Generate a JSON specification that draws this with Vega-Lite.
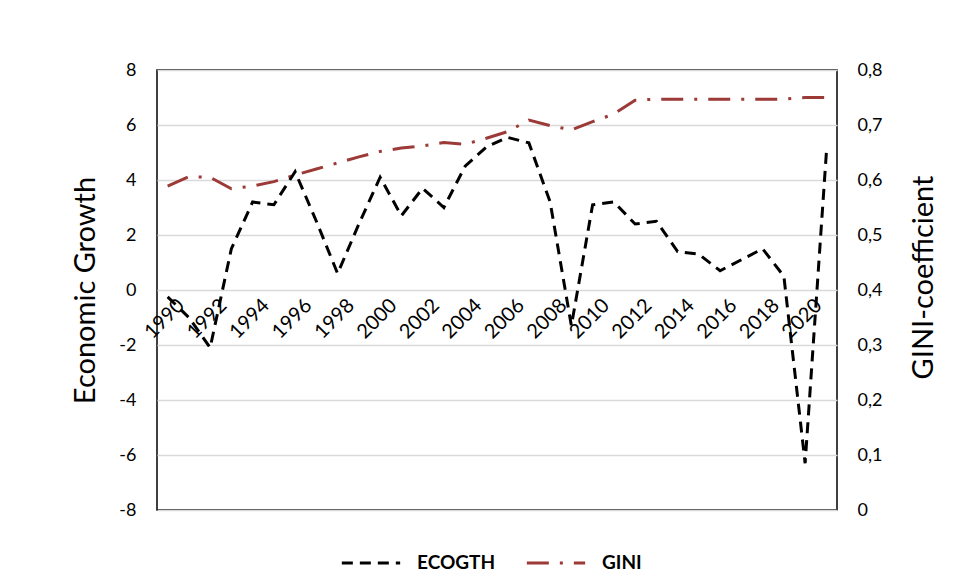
{
  "$schema": "https://vega.github.io/schema/vega-lite/v6.json",
  "width": 680,
  "height": 440,
  "autosize": {"type": "none"},
  "padding": {"left": 157, "top": 70, "right": 119, "bottom": 65},
  "background": "white",
  "config": {
    "view": {"stroke": "black", "strokeWidth": 1.5},
    "font": "Lato",
    "axis": {"labelFont": "Lato", "titleFont": "Lato", "labelColor": "black", "titleColor": "black", "titleFontWeight": "normal"}
  },
  "data": {
    "values": [
      {"year": "1990", "series": "ECOGTH", "value": -0.25},
      {"year": "1991", "series": "ECOGTH", "value": -1.0},
      {"year": "1992", "series": "ECOGTH", "value": -2.1},
      {"year": "1993", "series": "ECOGTH", "value": 1.5},
      {"year": "1994", "series": "ECOGTH", "value": 3.2},
      {"year": "1995", "series": "ECOGTH", "value": 3.1},
      {"year": "1996", "series": "ECOGTH", "value": 4.3},
      {"year": "1997", "series": "ECOGTH", "value": 2.5},
      {"year": "1998", "series": "ECOGTH", "value": 0.6},
      {"year": "1999", "series": "ECOGTH", "value": 2.4},
      {"year": "2000", "series": "ECOGTH", "value": 4.1},
      {"year": "2001", "series": "ECOGTH", "value": 2.7},
      {"year": "2002", "series": "ECOGTH", "value": 3.7},
      {"year": "2003", "series": "ECOGTH", "value": 3.0},
      {"year": "2004", "series": "ECOGTH", "value": 4.5},
      {"year": "2005", "series": "ECOGTH", "value": 5.2},
      {"year": "2006", "series": "ECOGTH", "value": 5.55},
      {"year": "2007", "series": "ECOGTH", "value": 5.35},
      {"year": "2008", "series": "ECOGTH", "value": 3.2},
      {"year": "2009", "series": "ECOGTH", "value": -1.3},
      {"year": "2010", "series": "ECOGTH", "value": 3.1},
      {"year": "2011", "series": "ECOGTH", "value": 3.2},
      {"year": "2012", "series": "ECOGTH", "value": 2.4},
      {"year": "2013", "series": "ECOGTH", "value": 2.5},
      {"year": "2014", "series": "ECOGTH", "value": 1.4},
      {"year": "2015", "series": "ECOGTH", "value": 1.3},
      {"year": "2016", "series": "ECOGTH", "value": 0.7},
      {"year": "2017", "series": "ECOGTH", "value": 1.1},
      {"year": "2018", "series": "ECOGTH", "value": 1.5},
      {"year": "2019", "series": "ECOGTH", "value": 0.5},
      {"year": "2020", "series": "ECOGTH", "value": -6.3},
      {"year": "2021", "series": "ECOGTH", "value": 5.0},
      {"year": "1990", "series": "GINI", "value": 0.589},
      {"year": "1991", "series": "GINI", "value": 0.606},
      {"year": "1992", "series": "GINI", "value": 0.605},
      {"year": "1993", "series": "GINI", "value": 0.584},
      {"year": "1994", "series": "GINI", "value": 0.589},
      {"year": "1995", "series": "GINI", "value": 0.597},
      {"year": "1996", "series": "GINI", "value": 0.609},
      {"year": "1997", "series": "GINI", "value": 0.62},
      {"year": "1998", "series": "GINI", "value": 0.631},
      {"year": "1999", "series": "GINI", "value": 0.642},
      {"year": "2000", "series": "GINI", "value": 0.652},
      {"year": "2001", "series": "GINI", "value": 0.658},
      {"year": "2002", "series": "GINI", "value": 0.662},
      {"year": "2003", "series": "GINI", "value": 0.668},
      {"year": "2004", "series": "GINI", "value": 0.665},
      {"year": "2005", "series": "GINI", "value": 0.676},
      {"year": "2006", "series": "GINI", "value": 0.688},
      {"year": "2007", "series": "GINI", "value": 0.709},
      {"year": "2008", "series": "GINI", "value": 0.699},
      {"year": "2009", "series": "GINI", "value": 0.691},
      {"year": "2010", "series": "GINI", "value": 0.706},
      {"year": "2011", "series": "GINI", "value": 0.72},
      {"year": "2012", "series": "GINI", "value": 0.745},
      {"year": "2013", "series": "GINI", "value": 0.747},
      {"year": "2014", "series": "GINI", "value": 0.747},
      {"year": "2015", "series": "GINI", "value": 0.747},
      {"year": "2016", "series": "GINI", "value": 0.747},
      {"year": "2017", "series": "GINI", "value": 0.747},
      {"year": "2018", "series": "GINI", "value": 0.747},
      {"year": "2019", "series": "GINI", "value": 0.747},
      {"year": "2020", "series": "GINI", "value": 0.75},
      {"year": "2021", "series": "GINI", "value": 0.75}
    ]
  },
  "encoding": {
    "x": {
      "field": "year",
      "type": "ordinal",
      "scale": {"type": "point", "padding": 0.5},
      "axis": {
        "title": null,
        "offset": -220,
        "domain": false,
        "ticks": false,
        "grid": false,
        "labelAngle": -45,
        "labelFontSize": 20,
        "labelPadding": 5,
        "labelOffset": 6,
        "labelExpr": "(toNumber(datum.value) % 2 == 0) ? datum.value : ''"
      }
    },
    "color": {
      "field": "series",
      "type": "nominal",
      "scale": {"domain": ["ECOGTH", "GINI"], "range": ["#000000", "#9B3A36"]},
      "legend": {
        "title": null,
        "orient": "none",
        "legendX": 183,
        "legendY": 462,
        "direction": "horizontal",
        "symbolType": "stroke",
        "symbolSize": 3400,
        "symbolStrokeWidth": 3,
        "labelFontSize": 19,
        "labelFontWeight": "bold",
        "labelColor": "black",
        "labelFont": "Lato",
        "labelOffset": 15,
        "columnPadding": 24
      }
    },
    "strokeDash": {
      "field": "series",
      "type": "nominal",
      "scale": {"domain": ["ECOGTH", "GINI"], "range": [[11, 7], [22, 11, 3, 11]]},
      "legend": {
        "title": null,
        "orient": "none",
        "legendX": 183,
        "legendY": 462,
        "direction": "horizontal",
        "symbolType": "stroke",
        "symbolSize": 3400,
        "symbolStrokeWidth": 3,
        "labelFontSize": 19,
        "labelFontWeight": "bold",
        "labelColor": "black",
        "labelFont": "Lato",
        "labelOffset": 15,
        "columnPadding": 24
      }
    }
  },
  "layer": [
    {
      "transform": [{"filter": "datum.series === 'GINI'"}],
      "mark": {"type": "line", "strokeWidth": 3},
      "encoding": {
        "y": {
          "field": "value",
          "type": "quantitative",
          "scale": {"domain": [0, 0.8], "nice": false, "zero": false},
          "axis": {
            "orient": "right",
            "title": "GINI-coefficient",
            "titleFontSize": 29,
            "titleAngle": -90,
            "titleAlign": "center",
            "titleBaseline": "middle",
            "titleX": 86,
            "titleY": 207,
            "values": [0, 0.1, 0.2, 0.3, 0.4, 0.5, 0.6, 0.7, 0.8],
            "labelExpr": "datum.value == 0 ? '0' : replace(format(datum.value, '.1f'), '.', ',')",
            "labelFontSize": 18,
            "labelPadding": 20,
            "ticks": false,
            "domain": false,
            "grid": false
          }
        }
      }
    },
    {
      "transform": [{"filter": "datum.series === 'ECOGTH'"}],
      "mark": {"type": "line", "strokeWidth": 3},
      "encoding": {
        "y": {
          "field": "value",
          "type": "quantitative",
          "scale": {"domain": [-8, 8], "nice": false},
          "axis": {
            "orient": "left",
            "title": "Economic Growth",
            "titleFontSize": 29,
            "titleAngle": -90,
            "titleAlign": "center",
            "titleBaseline": "middle",
            "titleX": -72,
            "titleY": 220,
            "values": [-8, -6, -4, -2, 0, 2, 4, 6, 8],
            "labelExpr": "'' + datum.value",
            "labelFontSize": 18,
            "labelPadding": 21,
            "ticks": false,
            "domain": false,
            "grid": true,
            "gridColor": "#D9D9D9",
            "gridWidth": 1.5
          }
        }
      }
    }
  ],
  "resolve": {"scale": {"y": "independent"}}
}
